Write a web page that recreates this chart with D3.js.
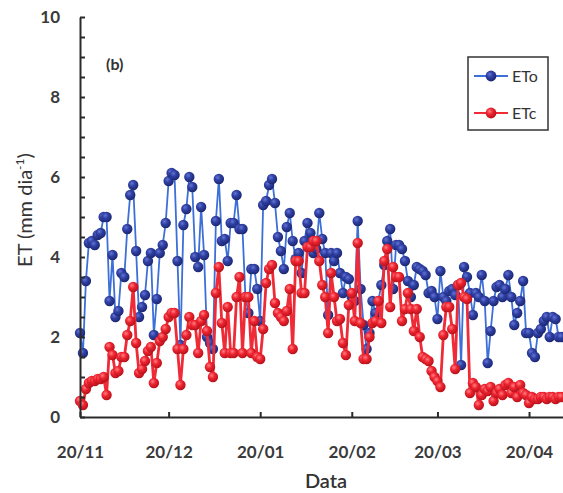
<!DOCTYPE html>
<html>
  <head>
    <title>ETo / ETc</title>
    <script src="https://d3js.org/d3.v7.min.js"></script>
    <style>
      body { margin: 0; background: #fff; }
      svg { display: block; font-family: Lato, "DejaVu Sans", sans-serif; }
      .axis path, .axis line { stroke: #2a2a2a; stroke-width: 2; }
      .axis text { font-size: 17px; font-weight: bold; fill: #3a3a3a; font-family: Lato, sans-serif; }
    </style>
  </head>
  <body>
    <svg width="563" height="493"></svg>
    <script>
      // Daily series, first day 20/11/2019
      const startDate = new Date(2019, 10, 20);

      const eto = [
        2.1, 1.6, 3.4, 4.35, 4.4, 4.3, 4.55, 4.6, 5.0, 5.0,
        2.9, 4.05, 2.5, 2.65, 3.6, 3.5, 4.7, 5.55, 5.8, 4.15,
        2.5, 2.75, 3.05, 3.9, 4.1, 2.05, 2.95, 4.1, 4.3, 4.85,
        5.9, 6.1, 6.05, 3.9, 1.8, 4.8, 5.2, 6.0, 5.75, 4.0,
        3.75, 5.25, 4.05, 2.0, 1.85, 1.7, 4.9, 5.95, 4.4, 4.45,
        3.9, 4.85, 4.85, 5.55, 4.7, 4.7, 3.0, 2.6, 3.7, 3.7,
        3.2, 2.4, 5.3, 5.4, 5.8, 5.95, 5.35, 4.5, 4.15, 3.7,
        4.75, 5.1, 4.4, 3.95, 4.1, 3.6, 4.4, 4.85, 4.6, 4.1,
        4.2, 5.1, 4.45, 4.1, 2.55, 4.1, 3.9, 4.1, 3.6, 3.1,
        3.5, 3.45, 3.0, 2.9, 4.9, 3.2, 2.3, 1.7, 2.1, 2.9,
        2.6, 2.9, 3.3, 3.8, 4.4, 4.7, 3.2, 4.3, 4.3, 4.2,
        3.9, 3.4, 3.0, 3.3, 3.75, 3.7, 3.65, 3.55, 3.1, 3.15,
        3.0, 2.45, 3.65, 3.0, 2.9, 3.15, 3.2, 3.05, 3.3, 1.3,
        3.75, 3.5, 3.1, 2.55, 3.1, 3.0, 3.55, 2.9, 1.35, 2.15,
        2.9, 3.25, 3.3, 3.0, 3.2, 3.55, 3.0, 2.3, 2.6, 2.9,
        3.4, 2.1, 2.1, 1.6, 1.5, 2.1, 2.2, 2.4, 2.5, 2.0,
        2.5, 2.45, 2.0, 2.0
      ];

      const etc = [
        0.4, 0.3, 0.7, 0.85, 0.9, 0.9, 0.95, 0.95, 1.0, 0.55,
        1.75, 1.55, 1.1, 1.15, 1.5, 1.5, 2.05, 2.4, 3.25, 1.85,
        1.1, 1.2, 1.4, 1.65, 1.75, 0.85, 1.35, 1.9, 2.0, 2.2,
        2.5, 2.6, 2.6, 1.7, 0.8, 1.7, 2.05, 2.5, 2.3, 2.3,
        1.6, 2.4, 2.55, 2.15, 1.25, 1.0, 3.1, 3.75, 2.35, 1.6,
        2.75, 1.6, 1.6, 3.0, 3.5, 1.6, 3.0, 3.0, 1.6, 2.4,
        1.5, 1.45, 2.2, 3.35, 3.7, 3.8, 2.85, 2.6, 2.5, 2.4,
        2.65, 3.2, 1.7, 3.9, 3.9, 3.1, 3.1, 4.25, 4.25, 4.4,
        4.4, 3.9, 3.3, 3.0, 2.1, 3.6, 3.0, 2.4, 2.45, 1.85,
        1.55, 2.8, 3.1, 2.4, 4.35, 2.35, 1.45, 1.45, 2.0, 2.35,
        2.4, 2.9, 2.35, 3.9, 4.2, 2.75, 3.75, 3.5, 3.5, 2.4,
        2.7, 3.1, 2.7, 2.15, 2.7, 2.0, 1.5, 1.45, 1.4, 1.15,
        1.0, 0.9, 0.75, 2.05, 2.75, 2.75, 2.2, 1.2, 3.3, 3.35,
        3.0, 2.95, 0.6, 0.85, 0.75, 0.3, 0.55, 0.7, 0.65, 0.75,
        0.4, 0.6, 0.7, 0.55, 0.8, 0.85, 0.6, 0.75, 0.5, 0.8,
        0.6, 0.55, 0.35, 0.5, 0.45, 0.45, 0.5, 0.5, 0.45, 0.5,
        0.5, 0.45, 0.5, 0.5
      ];

      const tickDates = [
        new Date(2019, 10, 20), new Date(2019, 11, 20), new Date(2020, 0, 20),
        new Date(2020, 1, 20), new Date(2020, 2, 20), new Date(2020, 3, 20)
      ];
      const tickLabels = ["20/11", "20/12", "20/01", "20/02", "20/03", "20/04"];
      const yTicks = d3.range(0, 10.01, 0.5);

      const seriesNames = ["ETo", "ETc"];

      const margin = { top: 17, right: 0, bottom: 76, left: 80 };
      const width = 563, height = 493;

      const x = d3.scaleTime()
        .domain([startDate, new Date(2020, 4, 1, 12)])
        .range([margin.left, width - margin.right]);
      const y = d3.scaleLinear().domain([0, 10]).range([height - margin.bottom, margin.top]);

      const svg = d3.select("svg");
      const defs = svg.append("defs");

      function ballGradient(id, light, mid, dark) {
        const g = defs.append("radialGradient")
          .attr("id", id).attr("cx", "38%").attr("cy", "35%").attr("r", "65%");
        g.append("stop").attr("offset", "0%").attr("stop-color", light);
        g.append("stop").attr("offset", "45%").attr("stop-color", mid);
        g.append("stop").attr("offset", "100%").attr("stop-color", dark);
      }
      ballGradient("gBlue", "#6474d6", "#2f40a3", "#1c2772");
      ballGradient("gRed", "#ff7d84", "#ee2430", "#b8121b");

      const series = [
        { name: seriesNames[0], values: eto, line: "#3d6fd8", lw: 1.8, fill: "url(#gBlue)" },
        { name: seriesNames[1], values: etc, line: "#ee2b36", lw: 2.8, fill: "url(#gRed)" }
      ];

      const day = i => d3.timeDay.offset(startDate, i);
      const line = d3.line().x((d, i) => x(day(i))).y(d => y(d));

      series.forEach(s => {
        const g = svg.append("g");
        g.append("path")
          .datum(s.values)
          .attr("fill", "none")
          .attr("stroke", s.line)
          .attr("stroke-width", s.lw)
          .attr("stroke-linejoin", "round")
          .attr("d", line);
        g.selectAll("circle")
          .data(s.values)
          .join("circle")
          .attr("cx", (d, i) => x(day(i)))
          .attr("cy", d => y(d))
          .attr("r", 5.2)
          .attr("fill", s.fill);
      });

      // Axes
      svg.append("g")
        .attr("class", "axis")
        .attr("transform", `translate(0,${y(0)})`)
        .call(d3.axisBottom(x)
          .tickValues(tickDates)
          .tickFormat((d, i) => tickLabels[i])
          .tickSizeInner(-5)
          .tickSizeOuter(0)
          .tickPadding(29));

      svg.append("g")
        .attr("class", "axis")
        .attr("transform", `translate(${margin.left},0)`)
        .call(d3.axisLeft(y)
          .tickValues(yTicks)
          .tickFormat(d => (d % 2 === 0 ? d : ""))
          .tickSizeInner(-5)
          .tickSizeOuter(0)
          .tickPadding(20));

      // Axis titles
      svg.append("text")
        .attr("x", 326).attr("y", 488)
        .attr("text-anchor", "middle")
        .attr("font-size", 20).attr("font-weight", 600)
        .attr("fill", "#333")
        .text("Data");

      const yt = svg.append("text")
        .attr("transform", "translate(32,210) rotate(-90)")
        .attr("text-anchor", "middle")
        .attr("font-size", 20)
        .attr("fill", "#333");
      yt.append("tspan").text("ET (mm dia");
      yt.append("tspan").attr("font-size", 12).attr("dy", -8).text("-1");
      yt.append("tspan").attr("dy", 8).text(")");

      svg.append("text")
        .attr("x", 106).attr("y", 70)
        .attr("font-size", 16).attr("font-weight", "bold")
        .attr("fill", "#333")
        .text("(b)");

      // Legend
      const legend = svg.append("g");
      legend.append("rect")
        .attr("x", 468).attr("y", 57).attr("width", 80).attr("height", 73)
        .attr("fill", "#fff").attr("stroke", "#333").attr("stroke-width", 1.5);
      series.forEach((s, i) => {
        const ly = 76 + i * 37;
        legend.append("line")
          .attr("x1", 474).attr("x2", 508).attr("y1", ly).attr("y2", ly)
          .attr("stroke", s.line).attr("stroke-width", 2);
        legend.append("circle")
          .attr("cx", 491).attr("cy", ly).attr("r", 5.4).attr("fill", s.fill);
        legend.append("text")
          .attr("x", 512).attr("y", ly).attr("dy", "0.35em")
          .attr("font-size", 16).attr("fill", "#333")
          .text(s.name);
      });
    </script>
  </body>
</html>
